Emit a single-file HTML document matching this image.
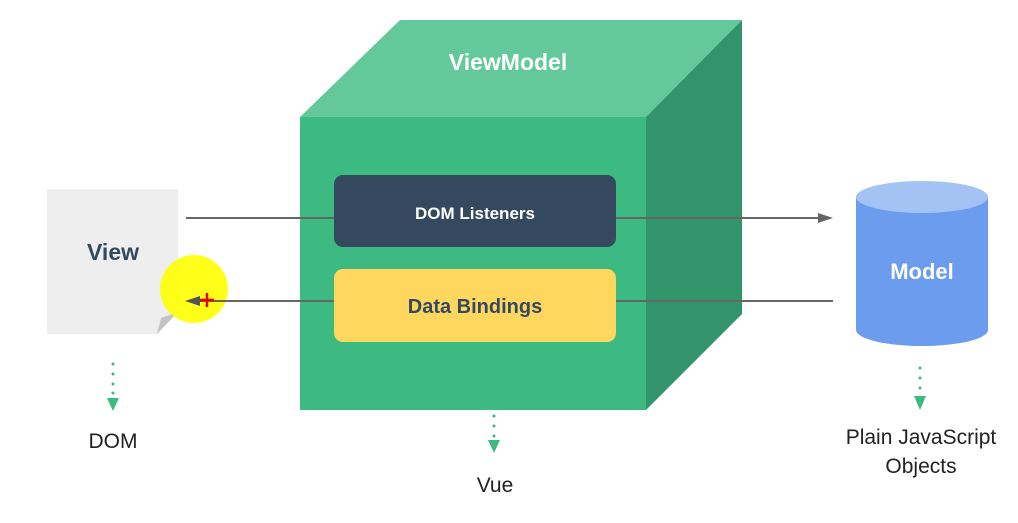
<!DOCTYPE html>
<html><head><style>body{margin:0;background:#fff}svg{display:block}</style></head><body>
<svg width="1018" height="523" viewBox="0 0 1018 523" xmlns="http://www.w3.org/2000/svg" font-family="Liberation Sans, sans-serif">
<polygon points="300,117 400,20 742,20 646,117" fill="#63c99a"/>
<polygon points="646,117 742,20 742,314 646,410" fill="#31946a"/>
<rect x="300" y="117" width="346" height="293" fill="#3dba82"/>
<text x="508" y="70" text-anchor="middle" font-size="23" font-weight="bold" fill="#fff">ViewModel</text>
<line x1="186" y1="218" x2="818" y2="218" stroke="#666" stroke-width="2"/>
<polygon points="833,218 818,213 818,223" fill="#666"/>
<line x1="833" y1="301" x2="195" y2="301" stroke="#666" stroke-width="2"/>
<rect x="334" y="175" width="282" height="72" rx="9" fill="#34495e"/>
<text x="475" y="219" text-anchor="middle" font-size="17" font-weight="bold" fill="#fff">DOM Listeners</text>
<rect x="334" y="269" width="282" height="73" rx="9" fill="#ffd75e"/>
<text x="475" y="313" text-anchor="middle" font-size="20" font-weight="bold" fill="#34495e">Data Bindings</text>
<polygon points="47,189 178,189 178,312 157,334 47,334" fill="#eeeeee"/>
<polygon points="178,312 157,334 161,318" fill="#c4c4c4"/>
<text x="113" y="260" text-anchor="middle" font-size="23" font-weight="bold" fill="#34495e">View</text>
<path d="M856,197 V330 A66,16 0 0 0 988,330 V197 Z" fill="#6b9ced"/>
<ellipse cx="922" cy="197" rx="66" ry="16" fill="#a4c3f5"/>
<text x="922" y="279" text-anchor="middle" font-size="22" font-weight="bold" fill="#fff">Model</text>
<circle cx="194" cy="289" r="34" fill="#ffff00" opacity="0.9"/>
<line x1="200" y1="301" x2="228" y2="301" stroke="#666" stroke-width="2"/>
<polygon points="185,301 200,296 200,306" fill="#555"/>
<path d="M200,300 h14 M207,293 v14" stroke="#e00" stroke-width="2.5"/>
<g fill="#3dba82">
<circle cx="113" cy="364" r="1.5"/><circle cx="113" cy="374" r="1.5"/><circle cx="113" cy="384" r="1.5"/><circle cx="113" cy="393" r="1.5"/>
<polygon points="107,398 119,398 113,411"/>
<circle cx="494" cy="416" r="1.5"/><circle cx="494" cy="426" r="1.5"/><circle cx="494" cy="436" r="1.5"/>
<polygon points="488,440 500,440 494,453"/>
<circle cx="920" cy="368" r="1.5"/><circle cx="920" cy="378" r="1.5"/><circle cx="920" cy="388" r="1.5"/>
<polygon points="914,396 926,396 920,410"/>
</g>
<g font-size="21" fill="#222" text-anchor="middle">
<text x="113" y="448">DOM</text>
<text x="495" y="492">Vue</text>
<text x="921" y="444">Plain JavaScript</text>
<text x="921" y="473">Objects</text>
</g>
</svg>
</body></html>
